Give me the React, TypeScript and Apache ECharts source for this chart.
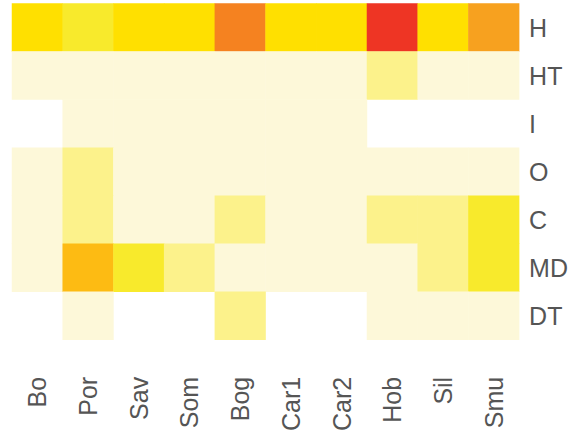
import React, { useEffect, useRef } from "react";
import * as echarts from "echarts";

const sites = ["Bo", "Por", "Sav", "Som", "Bog", "Car1", "Car2", "Hob", "Sil", "Smu"];
const rowsLabels = ["H", "HT", "I", "O", "C", "MD", "DT"];

// level per site (null = no data)
const rowH = [4, 3, 4, 4, 7, 4, 4, 8, 4, 6];
const rowHT = [1, 1, 1, 1, 1, 1, 1, 2, 1, 1];
const rowI = [null, 1, 1, 1, 1, 1, 1, null, null, null];
const rowO = [1, 2, 1, 1, 1, 1, 1, 1, 1, 1];
const rowC = [1, 2, 1, 1, 2, 1, 1, 2, 2, 3];
const rowMD = [1, 5, 3, 2, 1, 1, 1, 1, 2, 3];
const rowDT = [null, 1, null, null, 2, null, null, 1, 1, 1];

const levelColors = ["#FDF8D9", "#FCF28B", "#F8EA2C", "#FFE000", "#FDBB13", "#F7A11F", "#F58220", "#EE3524"];

export default function App() {
  const ref = useRef<HTMLDivElement>(null);
  useEffect(() => {
    if (!ref.current) return;
    const chart = echarts.init(ref.current, null, { renderer: "svg" });
    const allRows = [rowH, rowHT, rowI, rowO, rowC, rowMD, rowDT];
    const data: any[] = [];
    allRows.forEach((row, yi) => {
      row.forEach((v, xi) => {
        if (v !== null) data.push([xi, yi, v]);
      });
    });
    chart.setOption({
      animation: false,
      grid: { left: 12, right: 51.5, top: 3.5, bottom: 92.5 },
      xAxis: {
        type: "category",
        data: sites,
        axisLine: { show: false },
        axisTick: { show: false },
        splitArea: { show: false },
        axisLabel: {
          rotate: 90,
          margin: 37,
          fontSize: 25,
          color: "#555555",
          fontFamily: "Liberation Sans",
          interval: 0,
        },
      },
      yAxis: {
        type: "category",
        data: rowsLabels,
        inverse: true,
        position: "right",
        axisLine: { show: false },
        axisTick: { show: false },
        axisLabel: {
          margin: 10,
          fontSize: 25,
          color: "#555555",
          fontFamily: "Liberation Sans",
        },
      },
      visualMap: {
        type: "piecewise",
        show: false,
        dimension: 2,
        pieces: levelColors.map((c, i) => ({ value: i + 1, color: c })),
      },
      series: [
        {
          type: "heatmap",
          data,
          itemStyle: { borderWidth: 0 },
          emphasis: { disabled: true },
        },
      ],
    });
    return () => chart.dispose();
  }, []);
  return (
    <div
      ref={ref}
      style={{ position: "fixed", left: 0, top: 0, width: 571, height: 434, background: "#fff" }}
    />
  );
}
